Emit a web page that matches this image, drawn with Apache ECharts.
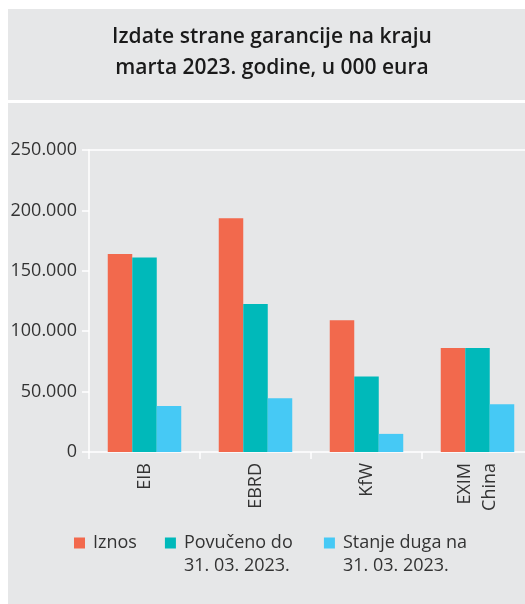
<!DOCTYPE html>
<html>
<head>
<meta charset="utf-8">
<script src="https://cdn.jsdelivr.net/npm/echarts@6/dist/echarts.min.js"></script>
<style>
html,body{margin:0;padding:0;background:#fff;overflow:hidden;width:525px;height:604px;}
#c{width:545px;height:604px;}
</style>
</head>
<body>
<div id="c"></div>
<script>
const titleText = 'Izdate strane garancije na kraju\nmarta 2023. godine, u 000 eura';
const categories = ['EIB', 'EBRD', 'KfW', 'EXIM\nChina'];
const seriesNames = ['Iznos', 'Povučeno do\n31. 03. 2023.', 'Stanje duga na\n31. 03. 2023.'];
const iznos = [164000, 193500, 109000, 86000];
const povuceno = [161000, 122500, 62500, 86000];
const stanje = [38000, 44500, 15000, 39500];
const yTicks = [0, 50000, 100000, 150000, 200000, 250000];

const colors = ['#f2694d', '#00b9ba', '#46c9f5'];
const bg = '#e6e7e8';
const fontFam = '"Open Sans", "Noto Sans", sans-serif';

const chart = echarts.init(document.getElementById('c'), null, {renderer: 'canvas'});
const fmt = v => String(v).replace(/\B(?=(\d{3})+(?!\d))/g, '.');

const dataSets = [iznos, povuceno, stanje];
const legendWidths = [43, 112, 126];

chart.setOption({
  backgroundColor: '#ffffff',
  animation: false,
  graphic: [
    {type: 'rect', left: 8, top: 9, shape: {width: 517, height: 91}, style: {fill: bg}, z: -10, silent: true},
    {type: 'rect', left: 8, top: 103, shape: {width: 517, height: 501}, style: {fill: bg}, z: -10, silent: true}
  ],
  title: {
    text: titleText,
    left: 272, top: 22, textAlign: 'center', padding: 0,
    textStyle: {fontFamily: fontFam, fontWeight: 600, fontSize: 21, lineHeight: 31, color: '#1a1a1a'}
  },
  legend: {
    left: 74, top: 508.5, padding: 0,
    icon: 'rect', itemWidth: 11, itemHeight: 11, itemGap: 28,
    formatter: n => n.indexOf('\n') >= 0 ? ' \n' + n : n,
    data: seriesNames.map((n, i) => ({
      name: n,
      textStyle: {width: legendWidths[i], padding: [0, 0, 0, 3]}
    })),
    textStyle: {fontFamily: fontFam, fontSize: 18, lineHeight: 23, color: '#333'}
  },
  grid: {left: 89, top: 150, width: 444, height: 302, containLabel: false},
  xAxis: [{
    type: 'category', data: categories,
    axisLine: {lineStyle: {color: '#fff', width: 1.5}},
    axisTick: {show: true, length: 7, lineStyle: {color: '#fff', width: 1.5}},
    axisLabel: {interval: 0, rotate: 90, margin: 11, fontFamily: fontFam, fontSize: 18, lineHeight: 25, color: '#333'}
  }, {
    type: 'category', data: categories, position: 'top',
    axisLine: {show: true, lineStyle: {color: '#fff', width: 1.5}},
    axisTick: {show: false}, axisLabel: {show: false}
  }],
  yAxis: {
    type: 'value', min: yTicks[0], max: yTicks[yTicks.length - 1], interval: yTicks[1] - yTicks[0],
    axisLine: {show: true, lineStyle: {color: '#fff', width: 1.5}},
    axisTick: {show: true, length: 7, lineStyle: {color: '#fff', width: 1.5}},
    splitLine: {show: false},
    axisLabel: {margin: 12, formatter: fmt, fontFamily: fontFam, fontSize: 18, color: '#333'}
  },
  series: seriesNames.map((n, i) => ({
    name: n, type: 'bar', data: dataSets[i], barWidth: 24.5, barGap: '0%',
    itemStyle: {color: colors[i]}
  }))
});
</script>
</body>
</html>
